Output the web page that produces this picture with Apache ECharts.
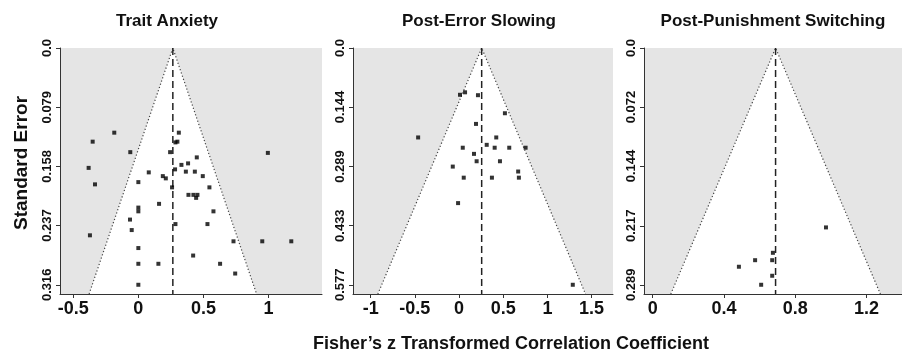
<!DOCTYPE html>
<html>
<head>
<meta charset="utf-8">
<script src="https://cdn.jsdelivr.net/npm/echarts@6/dist/echarts.min.js"></script>
<style>
  html, body { margin: 0; padding: 0; background: #fff; }
  #main { width: 902px; height: 356px; }
</style>
</head>
<body>
<div id="main"></div>
<script>
// panel titles and pooled estimates (dashed line)
const titles = ['Trait Anxiety', 'Post-Error Slowing', 'Post-Punishment Switching'];
const estimates = [0.265, 0.256, 0.690];

// Trait Anxiety
const anxietyZ = [-0.351, -0.185, -0.062, -0.382, -0.333, -0.372, 0.311, 0.300, 0.285, 0.244,
  0.449, 0.995, 0.331, 0.382, 0.282, 0.365, 0.434, 0.495, 0.080, 0.188,
  0.211, 0.000, 0.259, 0.546, 0.385, 0.423, 0.454, 0.444, 0.159, 0.000,
  0.000, 0.577, -0.064, -0.051, 0.285, 0.531, 0.731, 0.952, 1.175, 0.000,
  0.421, 0.000, 0.154, 0.628, 0.744, 0.000];
const anxietySe = [0.125, 0.113, 0.139, 0.160, 0.182, 0.250, 0.113, 0.125, 0.126, 0.139,
  0.146, 0.140, 0.156, 0.154, 0.162, 0.165, 0.165, 0.171, 0.166, 0.171,
  0.174, 0.179, 0.186, 0.186, 0.196, 0.196, 0.196, 0.200, 0.208, 0.213,
  0.218, 0.218, 0.229, 0.243, 0.235, 0.235, 0.258, 0.258, 0.258, 0.267,
  0.277, 0.288, 0.288, 0.288, 0.301, 0.316];

// Post-Error Slowing
const slowingZ = [0.011, 0.068, 0.214, 0.519, 0.192, -0.463, 0.421, 0.313, 0.042, 0.403,
  0.568, 0.753, 0.169, 0.199, 0.463, -0.071, 0.669, 0.677, 0.053, 0.372, -0.011, 1.287];
const slowingSe = [0.114, 0.108, 0.115, 0.159, 0.185, 0.218, 0.218, 0.236, 0.243, 0.243,
  0.243, 0.243, 0.258, 0.276, 0.276, 0.289, 0.301, 0.316, 0.316, 0.316, 0.378, 0.577];

// Post-Punishment Switching
const switchingZ = [0.973, 0.675, 0.575, 0.671, 0.484, 0.671, 0.609];
const switchingSe = [0.219, 0.250, 0.259, 0.259, 0.267, 0.278, 0.289];

// tick labels
const xTicks = [[-0.5, 0, 0.5, 1], [-1, -0.5, 0, 0.5, 1, 1.5], [0, 0.4, 0.8, 1.2]];
const seTicks = [
  [0, 0.079, 0.158, 0.237, 0.316],
  [0, 0.144, 0.289, 0.433, 0.577],
  [0, 0.072, 0.144, 0.217, 0.289]
];

const zValues = [anxietyZ, slowingZ, switchingZ];
const seValues = [anxietySe, slowingSe, switchingSe];

// layout
const FONT = '"Liberation Sans", Arial, sans-serif';
const gridLeft = [60, 353, 644];
const gridWidth = [262, 260, 258];
const xRange = [[-0.602, 1.411], [-1.2, 1.742], [-0.049, 1.4]];

const grids = [], xAxes = [], yAxes = [], series = [];

for (let i = 0; i < 3; i++) {
  const seMax = seTicks[i][seTicks[i].length - 1];
  const yMax = seMax * 1.039;
  const est = estimates[i];

  grids.push({
    left: gridLeft[i], top: 48, width: gridWidth[i], height: 246,
    show: true, backgroundColor: '#e5e5e5', borderWidth: 0
  });

  xAxes.push({
    type: 'value', gridIndex: i, min: xRange[i][0], max: xRange[i][1],
    axisLine: { onZero: false, lineStyle: { color: '#333', width: 1 } },
    axisTick: { customValues: xTicks[i], length: 4, lineStyle: { color: '#333' } },
    axisLabel: {
      customValues: xTicks[i], margin: 6, color: '#111',
      fontSize: 18, fontWeight: 'bold', fontFamily: FONT
    },
    splitLine: { show: false }
  });

  yAxes.push({
    type: 'value', gridIndex: i, inverse: true, min: 0, max: yMax,
    axisLine: { show: true, onZero: false, lineStyle: { color: '#333', width: 1 } },
    axisTick: { show: true, customValues: seTicks[i], length: 4, lineStyle: { color: '#333' } },
    axisLabel: {
      customValues: seTicks[i], rotate: 90, margin: 6, color: '#111',
      fontSize: 13, fontWeight: 'bold', fontFamily: FONT,
      formatter: v => (v === 0 ? '0.0' : v.toFixed(3))
    },
    splitLine: { show: false }
  });

  // white funnel with dotted edges
  series.push({
    type: 'custom', xAxisIndex: i, yAxisIndex: i, z: 1, silent: true,
    data: [[est, 0]],
    renderItem: function (params, api) {
      const apex = api.coord([est, 0]);
      const lo = api.coord([est - 1.96 * yMax, yMax]);
      const hi = api.coord([est + 1.96 * yMax, yMax]);
      return {
        type: 'group',
        children: [
          { type: 'polygon', shape: { points: [lo, apex, hi] }, style: { fill: '#fff' } },
          { type: 'polyline', shape: { points: [lo, apex, hi] },
            style: { stroke: '#444', lineWidth: 1.2, lineDash: [1.2, 2.2], fill: null } }
        ]
      };
    }
  });

  // dashed line at the pooled estimate
  series.push({
    type: 'line', xAxisIndex: i, yAxisIndex: i, z: 2, silent: true,
    data: [[est, 0], [est, yMax]], symbol: 'none',
    lineStyle: { color: '#222', width: 1.5, type: [7, 4] }
  });

  series.push({
    type: 'scatter', xAxisIndex: i, yAxisIndex: i, z: 3,
    data: zValues[i].map((z, k) => [z, seValues[i][k]]),
    symbol: 'rect', symbolSize: 4,
    itemStyle: { color: '#000' }
  });
}

const titleX = [167, 479, 773];
const graphics = titles.map((t, i) => ({
  type: 'text', x: titleX[i], y: 21,
  style: { text: t, font: 'bold 17px ' + FONT, fill: '#111',
    textAlign: 'center', textVerticalAlign: 'middle', align: 'center', verticalAlign: 'middle' }
}));
graphics.push({
  type: 'text', x: 22, y: 163, rotation: Math.PI / 2,
  style: { text: 'Standard Error', font: 'bold 19px ' + FONT, fill: '#111',
    textAlign: 'center', textVerticalAlign: 'middle', align: 'center', verticalAlign: 'middle' }
});
graphics.push({
  type: 'text', x: 511, y: 344,
  style: { text: 'Fisher’s z Transformed Correlation Coefficient', font: 'bold 18px ' + FONT, fill: '#111',
    textAlign: 'center', textVerticalAlign: 'middle', align: 'center', verticalAlign: 'middle' }
});

const chart = echarts.init(document.getElementById('main'), null, { renderer: 'canvas' });
chart.setOption({
  animation: false,
  grid: grids,
  xAxis: xAxes,
  yAxis: yAxes,
  series: series,
  graphic: graphics
});
</script>
</body>
</html>
